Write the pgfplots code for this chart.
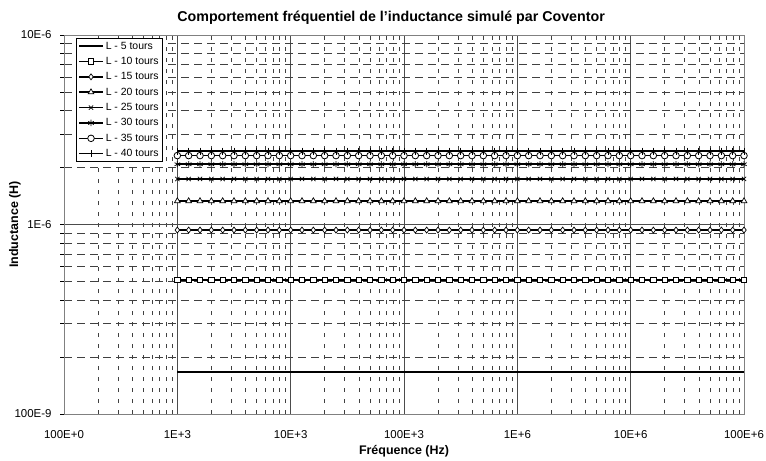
\documentclass[border=0pt]{standalone}
\usepackage{pgfplots}
\usepackage{pgfplotstable}
\pgfplotsset{compat=1.18}
\usepackage{fontspec}
\setmainfont{Liberation Sans}
\pgfplotstableread{
x L5 L10 L15 L20 L25 L30 L35 L40
1.0000e3 1.67e-7 5.10e-7 9.35e-7 1.33e-6 1.74e-6 2.08e-6 2.31e-6 2.44e-6
1.2589e3 1.67e-7 5.10e-7 9.35e-7 1.33e-6 1.74e-6 2.08e-6 2.31e-6 2.44e-6
1.5849e3 1.67e-7 5.10e-7 9.35e-7 1.33e-6 1.74e-6 2.08e-6 2.31e-6 2.44e-6
1.9953e3 1.67e-7 5.10e-7 9.35e-7 1.33e-6 1.74e-6 2.08e-6 2.31e-6 2.44e-6
2.5119e3 1.67e-7 5.10e-7 9.35e-7 1.33e-6 1.74e-6 2.08e-6 2.31e-6 2.44e-6
3.1623e3 1.67e-7 5.10e-7 9.35e-7 1.33e-6 1.74e-6 2.08e-6 2.31e-6 2.44e-6
3.9811e3 1.67e-7 5.10e-7 9.35e-7 1.33e-6 1.74e-6 2.08e-6 2.31e-6 2.44e-6
5.0119e3 1.67e-7 5.10e-7 9.35e-7 1.33e-6 1.74e-6 2.08e-6 2.31e-6 2.44e-6
6.3096e3 1.67e-7 5.10e-7 9.35e-7 1.33e-6 1.74e-6 2.08e-6 2.31e-6 2.44e-6
7.9433e3 1.67e-7 5.10e-7 9.35e-7 1.33e-6 1.74e-6 2.08e-6 2.31e-6 2.44e-6
1.0000e4 1.67e-7 5.10e-7 9.35e-7 1.33e-6 1.74e-6 2.08e-6 2.31e-6 2.44e-6
1.2589e4 1.67e-7 5.10e-7 9.35e-7 1.33e-6 1.74e-6 2.08e-6 2.31e-6 2.44e-6
1.5849e4 1.67e-7 5.10e-7 9.35e-7 1.33e-6 1.74e-6 2.08e-6 2.31e-6 2.44e-6
1.9953e4 1.67e-7 5.10e-7 9.35e-7 1.33e-6 1.74e-6 2.08e-6 2.31e-6 2.44e-6
2.5119e4 1.67e-7 5.10e-7 9.35e-7 1.33e-6 1.74e-6 2.08e-6 2.31e-6 2.44e-6
3.1623e4 1.67e-7 5.10e-7 9.35e-7 1.33e-6 1.74e-6 2.08e-6 2.31e-6 2.44e-6
3.9811e4 1.67e-7 5.10e-7 9.35e-7 1.33e-6 1.74e-6 2.08e-6 2.31e-6 2.44e-6
5.0119e4 1.67e-7 5.10e-7 9.35e-7 1.33e-6 1.74e-6 2.08e-6 2.31e-6 2.44e-6
6.3096e4 1.67e-7 5.10e-7 9.35e-7 1.33e-6 1.74e-6 2.08e-6 2.31e-6 2.44e-6
7.9433e4 1.67e-7 5.10e-7 9.35e-7 1.33e-6 1.74e-6 2.08e-6 2.31e-6 2.44e-6
1.0000e5 1.67e-7 5.10e-7 9.35e-7 1.33e-6 1.74e-6 2.08e-6 2.31e-6 2.44e-6
1.2589e5 1.67e-7 5.10e-7 9.35e-7 1.33e-6 1.74e-6 2.08e-6 2.31e-6 2.44e-6
1.5849e5 1.67e-7 5.10e-7 9.35e-7 1.33e-6 1.74e-6 2.08e-6 2.31e-6 2.44e-6
1.9953e5 1.67e-7 5.10e-7 9.35e-7 1.33e-6 1.74e-6 2.08e-6 2.31e-6 2.44e-6
2.5119e5 1.67e-7 5.10e-7 9.35e-7 1.33e-6 1.74e-6 2.08e-6 2.31e-6 2.44e-6
3.1623e5 1.67e-7 5.10e-7 9.35e-7 1.33e-6 1.74e-6 2.08e-6 2.31e-6 2.44e-6
3.9811e5 1.67e-7 5.10e-7 9.35e-7 1.33e-6 1.74e-6 2.08e-6 2.31e-6 2.44e-6
5.0119e5 1.67e-7 5.10e-7 9.35e-7 1.33e-6 1.74e-6 2.08e-6 2.31e-6 2.44e-6
6.3096e5 1.67e-7 5.10e-7 9.35e-7 1.33e-6 1.74e-6 2.08e-6 2.31e-6 2.44e-6
7.9433e5 1.67e-7 5.10e-7 9.35e-7 1.33e-6 1.74e-6 2.08e-6 2.31e-6 2.44e-6
1.0000e6 1.67e-7 5.10e-7 9.35e-7 1.33e-6 1.74e-6 2.08e-6 2.31e-6 2.44e-6
1.2589e6 1.67e-7 5.10e-7 9.35e-7 1.33e-6 1.74e-6 2.08e-6 2.31e-6 2.44e-6
1.5849e6 1.67e-7 5.10e-7 9.35e-7 1.33e-6 1.74e-6 2.08e-6 2.31e-6 2.44e-6
1.9953e6 1.67e-7 5.10e-7 9.35e-7 1.33e-6 1.74e-6 2.08e-6 2.31e-6 2.44e-6
2.5119e6 1.67e-7 5.10e-7 9.35e-7 1.33e-6 1.74e-6 2.08e-6 2.31e-6 2.44e-6
3.1623e6 1.67e-7 5.10e-7 9.35e-7 1.33e-6 1.74e-6 2.08e-6 2.31e-6 2.44e-6
3.9811e6 1.67e-7 5.10e-7 9.35e-7 1.33e-6 1.74e-6 2.08e-6 2.31e-6 2.44e-6
5.0119e6 1.67e-7 5.10e-7 9.35e-7 1.33e-6 1.74e-6 2.08e-6 2.31e-6 2.44e-6
6.3096e6 1.67e-7 5.10e-7 9.35e-7 1.33e-6 1.74e-6 2.08e-6 2.31e-6 2.44e-6
7.9433e6 1.67e-7 5.10e-7 9.35e-7 1.33e-6 1.74e-6 2.08e-6 2.31e-6 2.44e-6
1.0000e7 1.67e-7 5.10e-7 9.35e-7 1.33e-6 1.74e-6 2.08e-6 2.31e-6 2.44e-6
1.2589e7 1.67e-7 5.10e-7 9.35e-7 1.33e-6 1.74e-6 2.08e-6 2.31e-6 2.44e-6
1.5849e7 1.67e-7 5.10e-7 9.35e-7 1.33e-6 1.74e-6 2.08e-6 2.31e-6 2.44e-6
1.9953e7 1.67e-7 5.10e-7 9.35e-7 1.33e-6 1.74e-6 2.08e-6 2.31e-6 2.44e-6
2.5119e7 1.67e-7 5.10e-7 9.35e-7 1.33e-6 1.74e-6 2.08e-6 2.31e-6 2.44e-6
3.1623e7 1.67e-7 5.10e-7 9.35e-7 1.33e-6 1.74e-6 2.08e-6 2.31e-6 2.44e-6
3.9811e7 1.67e-7 5.10e-7 9.35e-7 1.33e-6 1.74e-6 2.08e-6 2.31e-6 2.44e-6
5.0119e7 1.67e-7 5.10e-7 9.35e-7 1.33e-6 1.74e-6 2.08e-6 2.31e-6 2.44e-6
6.3096e7 1.67e-7 5.10e-7 9.35e-7 1.33e-6 1.74e-6 2.08e-6 2.31e-6 2.44e-6
7.9433e7 1.67e-7 5.10e-7 9.35e-7 1.33e-6 1.74e-6 2.08e-6 2.31e-6 2.44e-6
1.0000e8 1.67e-7 5.10e-7 9.35e-7 1.33e-6 1.74e-6 2.08e-6 2.31e-6 2.44e-6
}\datatable
\begin{document}
\begin{tikzpicture}
\path[use as bounding box] (-64bp,-47bp) rectangle (702bp,414bp);
\begin{axis}[
  scale only axis,
  width=680bp, height=379bp,
  xmode=log, ymode=log,
  xmin=1e2, xmax=1e8, ymin=1e-7, ymax=1e-5,
  xtick={1e2,1e3,1e4,1e5,1e6,1e7,1e8},
  xticklabels={100E+0,1E+3,10E+3,100E+3,1E+6,10E+6,100E+6},
  ytick={1e-7,1e-6,1e-5},
  yticklabels={100E-9,1E-6,10E-6},
  /pgf/number format/assume math mode=true,
  ticklabel style={font=\fontsize{11.5}{13}\selectfont},
  xticklabel style={yshift=-9bp},
  yticklabel style={xshift=-5bp},
  tick align=outside, tick pos=left,
  major tick length=4bp, minor tick length=4bp,
  xtick style={draw=none},
  ytick style={black, line width=0.6bp},
  axis line style={draw=black!50, line width=0.8bp},
  grid=both,
  major grid style={black!70, line width=0.6bp},
  minor x grid style={black!75, line width=0.6bp, dash pattern=on 4bp off 7bp},
  minor y grid style={black!75, line width=0.6bp, dash pattern=on 8bp off 5bp},
  title={Comportement fréquentiel de l'inductance simulé par Coventor},
  title style={font=\bfseries\fontsize{14.3}{16}\selectfont, at={(rel axis cs:0.481,1)}, anchor=center, yshift=11bp},
  xlabel={Fréquence (Hz)},
  xlabel style={font=\bfseries\fontsize{12.5}{14}\selectfont, at={(axis description cs:0.5,0)}, anchor=center, yshift=-37bp},
  ylabel={Inductance (H)},
  ylabel style={font=\bfseries\fontsize{12.5}{14}\selectfont, at={(axis description cs:0,0.5)}, anchor=center, yshift=49bp},
  legend style={at={(rel axis cs:0.0176,0.992)}, anchor=north west, draw=black, fill=white, line width=0.6bp,
     font=\fontsize{10.5}{12}\selectfont, inner xsep=2bp, inner ysep=1.5bp, row sep=2.6bp},
  legend cell align=left,
  legend image code/.code={\draw[mark repeat=2,mark phase=2] plot coordinates {(0bp,0bp) (12bp,0bp) (24bp,0bp)};},
  every axis plot/.append style={black, line width=1.5bp},
]
\addplot[no marks] table[x=x,y=L5] {\datatable};
\addlegendentry{L - 5 tours}
\addplot[mark=square*, mark options={fill=white, line width=0.7bp, solid}, mark size=2.8bp] table[x=x,y=L10] {\datatable};
\addlegendentry{L - 10 tours}
\addplot[mark=diamond*, mark options={fill=white, line width=0.7bp, solid}, mark size=3bp] table[x=x,y=L15] {\datatable};
\addlegendentry{L - 15 tours}
\addplot[mark=triangle*, mark options={fill=white, line width=0.7bp, solid}, mark size=3.3bp] table[x=x,y=L20] {\datatable};
\addlegendentry{L - 20 tours}
\addplot[mark=x, mark options={line width=0.7bp, solid}, mark size=3bp] table[x=x,y=L25] {\datatable};
\addlegendentry{L - 25 tours}
\addplot[mark=asterisk, mark options={line width=0.7bp, solid}, mark size=3.2bp] table[x=x,y=L30] {\datatable};
\addlegendentry{L - 30 tours}
\addplot[mark=*, mark options={fill=white, line width=0.8bp, solid}, mark size=3.3bp] table[x=x,y=L35] {\datatable};
\addlegendentry{L - 35 tours}
\addplot[mark=|, mark options={line width=0.8bp, solid}, mark size=3.5bp] table[x=x,y=L40] {\datatable};
\addlegendentry{L - 40 tours}
\end{axis}
\end{tikzpicture}
\end{document}
